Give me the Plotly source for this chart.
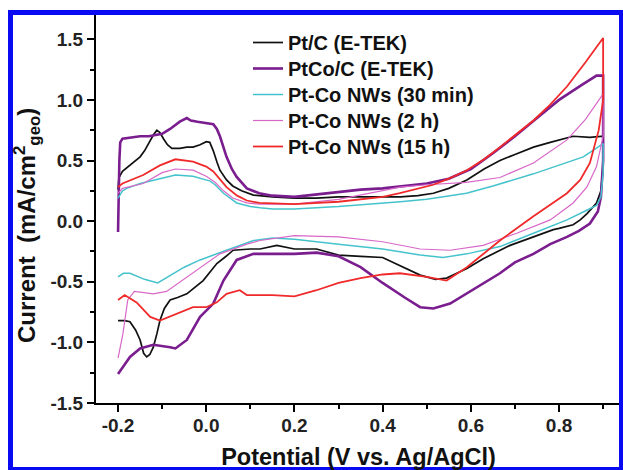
import plotly.graph_objects as go

# Cyclic voltammograms: anodic sweep (-0.2 -> 0.9 V) followed by cathodic sweep (0.9 -> -0.2 V)

ptc_v = [-0.2, -0.198, -0.19, -0.18, -0.165, -0.15, -0.14, -0.131, -0.12, -0.112, -0.105, -0.097,
         -0.088, -0.078, -0.06, -0.044, -0.03, -0.014, 0.0, 0.008, 0.016, 0.025, 0.031, 0.046, 0.06,
         0.08, 0.107, 0.15, 0.2, 0.25, 0.3, 0.35, 0.4, 0.44, 0.48, 0.515, 0.55, 0.591, 0.63, 0.666,
         0.7, 0.742, 0.78, 0.832, 0.87, 0.9,
         0.9, 0.895, 0.885, 0.863, 0.848, 0.832, 0.8, 0.787, 0.742, 0.689, 0.628, 0.591, 0.545,
         0.52, 0.485, 0.439, 0.4, 0.35, 0.3, 0.25, 0.2, 0.16, 0.122, 0.1, 0.061, 0.045, 0.024,
         -0.007, -0.03, -0.044, -0.065, -0.082, -0.095, -0.105, -0.112, -0.12, -0.128, -0.135,
         -0.142, -0.15, -0.16, -0.173, -0.185, -0.2]
ptc_i = [0.26, 0.36, 0.41, 0.44, 0.48, 0.53, 0.58, 0.64, 0.71, 0.75, 0.73, 0.68,
         0.63, 0.60, 0.60, 0.61, 0.61, 0.63, 0.655, 0.65, 0.58, 0.48, 0.42, 0.34, 0.29,
         0.25, 0.215, 0.20, 0.19, 0.19, 0.20, 0.20, 0.20, 0.20, 0.21, 0.23, 0.27, 0.34, 0.43, 0.50,
         0.55, 0.61, 0.65, 0.70, 0.69, 0.70,
         0.45, 0.25, 0.15, 0.06, 0.01, -0.03, -0.06, -0.07, -0.13, -0.20, -0.31, -0.39, -0.47,
         -0.48, -0.445, -0.37, -0.30, -0.29, -0.28, -0.23, -0.23, -0.20, -0.23, -0.23, -0.24, -0.29,
         -0.35, -0.49, -0.56, -0.60, -0.63, -0.65, -0.72, -0.82, -0.93, -1.04, -1.10, -1.12,
         -1.09, -0.98, -0.90, -0.83, -0.82, -0.82]

ptco_v = [-0.2, -0.199, -0.197, -0.195, -0.19, -0.17, -0.15, -0.13, -0.1, -0.082, -0.07, -0.06,
          -0.044, -0.035, -0.02, -0.005, 0.016, 0.024, 0.031, 0.046, 0.058, 0.069, 0.092, 0.12,
          0.15, 0.2, 0.25, 0.3, 0.35, 0.4, 0.45, 0.5, 0.55, 0.6, 0.65, 0.7, 0.75, 0.8, 0.85,
          0.885, 0.9,
          0.9, 0.9, 0.895, 0.888, 0.87, 0.845, 0.818, 0.78, 0.742, 0.7, 0.666, 0.63, 0.591,
          0.553, 0.515, 0.485, 0.45, 0.4, 0.35, 0.3, 0.25, 0.2, 0.15, 0.107, 0.069, 0.039,
          0.016, -0.014, -0.044, -0.07, -0.082, -0.1, -0.12, -0.15, -0.173, -0.2]
ptco_i = [-0.09, 0.2, 0.5, 0.65, 0.68, 0.69, 0.70, 0.70, 0.72, 0.76, 0.79, 0.82,
          0.85, 0.83, 0.82, 0.81, 0.80, 0.76, 0.70, 0.53, 0.43, 0.365, 0.27, 0.23,
          0.21, 0.20, 0.22, 0.24, 0.26, 0.27, 0.29, 0.31, 0.35, 0.43, 0.56, 0.70, 0.85, 1.0, 1.12,
          1.2, 1.2,
          1.0, 0.5, 0.2, 0.08, -0.02, -0.08, -0.13, -0.19, -0.27, -0.34, -0.43, -0.51, -0.60,
          -0.68, -0.72, -0.71, -0.63, -0.51, -0.38, -0.29, -0.26, -0.27, -0.27, -0.27, -0.32, -0.49,
          -0.68, -0.79, -0.98, -1.05, -1.04, -1.03, -1.02, -1.05, -1.12, -1.26]

nw30_v = [-0.2, -0.19, -0.18, -0.15, -0.105, -0.07, -0.03, 0.009, 0.02, 0.039, 0.069, 0.1,
          0.122, 0.15, 0.2, 0.3, 0.44, 0.5, 0.59, 0.65, 0.742, 0.8, 0.855, 0.9,
          0.9, 0.895, 0.885, 0.863, 0.818, 0.742, 0.666, 0.591, 0.537, 0.485, 0.439, 0.4, 0.3,
          0.2, 0.15, 0.107, 0.046, -0.014, -0.05, -0.082, -0.11, -0.14, -0.173, -0.188, -0.2]
nw30_i = [0.19, 0.25, 0.27, 0.31, 0.35, 0.38, 0.37, 0.33, 0.30, 0.23, 0.15, 0.12,
          0.11, 0.10, 0.10, 0.12, 0.16, 0.18, 0.23, 0.29, 0.39, 0.46, 0.53, 0.64,
          0.4, 0.2, 0.13, 0.09, 0.01, -0.10, -0.21, -0.27, -0.30, -0.28, -0.25, -0.23, -0.19,
          -0.15, -0.14, -0.16, -0.24, -0.32, -0.38, -0.45, -0.51, -0.48, -0.43, -0.43, -0.46]

nw2h_v = [-0.2, -0.19, -0.143, -0.1, -0.07, -0.03, 0.0, 0.02, 0.039, 0.06, 0.092, 0.12, 0.2,
          0.3, 0.44, 0.5, 0.59, 0.666, 0.742, 0.818, 0.86, 0.9,
          0.9, 0.885, 0.863, 0.832, 0.78, 0.704, 0.628, 0.553, 0.485, 0.439, 0.4, 0.3, 0.2,
          0.122, 0.092, 0.031, -0.03, -0.09, -0.12, -0.163, -0.178, -0.189, -0.2]
nw2h_i = [0.23, 0.27, 0.31, 0.40, 0.43, 0.42, 0.37, 0.32, 0.25, 0.19, 0.15, 0.14, 0.14,
          0.18, 0.28, 0.30, 0.32, 0.36, 0.48, 0.67, 0.84, 1.05,
          0.7, 0.45, 0.28, 0.15, 0.01, -0.10, -0.20, -0.24, -0.23, -0.20, -0.17, -0.13, -0.12,
          -0.16, -0.19, -0.27, -0.43, -0.58, -0.60, -0.58, -0.65, -0.93, -1.13]

nw15h_v = [-0.2, -0.19, -0.143, -0.105, -0.07, -0.03, 0.0, 0.016, 0.046, 0.07, 0.092, 0.12,
           0.2, 0.3, 0.4, 0.439, 0.515, 0.55, 0.591, 0.63, 0.666, 0.7, 0.742, 0.78, 0.818, 0.86,
           0.9,
           0.9, 0.89, 0.87, 0.848, 0.818, 0.742, 0.666, 0.591, 0.545, 0.5, 0.439, 0.4, 0.35,
           0.3, 0.25, 0.2, 0.15, 0.122, 0.092, 0.076, 0.046, 0.024, 0.0, -0.03, -0.07, -0.105,
           -0.127, -0.158, -0.185, -0.2]
nw15h_i = [0.28, 0.31, 0.38, 0.46, 0.51, 0.49, 0.45, 0.41, 0.28, 0.21, 0.17, 0.15,
           0.14, 0.16, 0.20, 0.23, 0.30, 0.35, 0.42, 0.51, 0.61, 0.71, 0.83, 0.96, 1.11, 1.31,
           1.51,
           1.0, 0.75, 0.48, 0.34, 0.23, 0.04, -0.16, -0.38, -0.49, -0.46, -0.43, -0.44, -0.47,
           -0.51, -0.57, -0.62, -0.61, -0.61, -0.61, -0.57, -0.60, -0.67, -0.71, -0.71, -0.77,
           -0.82, -0.79, -0.67, -0.61, -0.65]

series = [
    ("Pt/C (E-TEK)", ptc_v, ptc_i, "#111111", 1.7),
    ("PtCo/C (E-TEK)", ptco_v, ptco_i, "#7a1d8e", 2.6),
    ("Pt-Co NWs (30 min)", nw30_v, nw30_i, "#45c3cc", 1.5),
    ("Pt-Co NWs (2 h)", nw2h_v, nw2h_i, "#d868c8", 1.2),
    ("Pt-Co NWs (15 h)", nw15h_v, nw15h_i, "#f02a2a", 1.8),
]

x_ticks = [-0.2, 0.0, 0.2, 0.4, 0.6, 0.8]
x_ticktext = ["-0.2", "0.0", "0.2", "0.4", "0.6", "0.8"]
y_ticks = [-1.5, -1.0, -0.5, 0.0, 0.5, 1.0, 1.5]
y_ticktext = ["-1.5", "-1.0", "-0.5", "0.0", "0.5", "1.0", "1.5"]

FONT = "Liberation Sans, Arial, sans-serif"


def px_x(p):
    """pixel column -> paper x (plot area spans columns 96..621)"""
    return (p - 96) / 525.0


def px_y(p):
    """pixel row -> paper y (plot area spans rows 15..403)"""
    return (403 - p) / 388.0


# one single-entry legend per trace, stacked 26 px apart
legend_names = ["legend", "legend2", "legend3", "legend4", "legend5"]
legend_top = 23
legend_step = 26

fig = go.Figure()
for k, (name, v, i, color, w) in enumerate(series):
    fig.add_trace(go.Scatter(x=v, y=i, mode="lines", name=name, legend=legend_names[k],
                             line=dict(color=color, width=w)))

axis_common = dict(showline=True, linecolor="black", linewidth=2, ticks="outside",
                   ticklen=7, tickwidth=2, tickcolor="black", showgrid=False, zeroline=False,
                   mirror=False,
                   tickfont=dict(family=FONT, size=19, color="#222", weight="bold"))

fig.update_xaxes(range=[-0.25, 0.9405], tickvals=x_ticks, ticktext=x_ticktext,
                 ticklabelstandoff=-3,
                 minor=dict(dtick=0.1, tick0=0, ticks="outside", ticklen=4, tickwidth=2,
                            tickcolor="black"),
                 title=dict(text="Potential (V vs. Ag/AgCl)", standoff=17,
                            font=dict(family=FONT, size=23.5, color="#111", weight="bold")),
                 **axis_common)
fig.update_yaxes(range=[-1.5, 1.7], tickvals=y_ticks, ticktext=y_ticktext,
                 minor=dict(dtick=0.25, tick0=0, ticks="outside", ticklen=4, tickwidth=2,
                            tickcolor="black"),
                 **axis_common)

# y-axis title
fig.add_annotation(text="Current  (mA/cm<sup>2</sup><sub>geo</sub>)", textangle=-90,
                   xref="paper", yref="paper", x=px_x(27), y=px_y(226),
                   xanchor="center", yanchor="middle", showarrow=False,
                   font=dict(family=FONT, size=24, color="#111", weight="bold"))

# blue frame around the figure
frame = [(8, 10, 13, 470), (8, 10, 623, 15), (619, 10, 623, 470), (8, 467, 623, 470)]
shapes = []
for x0, y0, x1, y1 in frame:
    shapes.append(dict(type="rect", xref="paper", yref="paper",
                       x0=px_x(x0), x1=px_x(x1), y0=px_y(y1), y1=px_y(y0),
                       fillcolor="#0a0af2", line=dict(width=0), layer="above"))

layout_legends = {}
for k, lname in enumerate(legend_names):
    layout_legends[lname] = dict(
        x=px_x(248), y=px_y(legend_top + k * legend_step), xanchor="left", yanchor="top",
        bgcolor="rgba(0,0,0,0)",
        font=dict(family=FONT, size=20, color="#111", weight="bold"))

fig.update_layout(
    width=623, height=470,
    margin=dict(l=96, r=2, t=15, b=67, autoexpand=False),
    paper_bgcolor="white", plot_bgcolor="white",
    shapes=shapes,
    showlegend=True,
    **layout_legends,
)

fig.write_html("out.html")
